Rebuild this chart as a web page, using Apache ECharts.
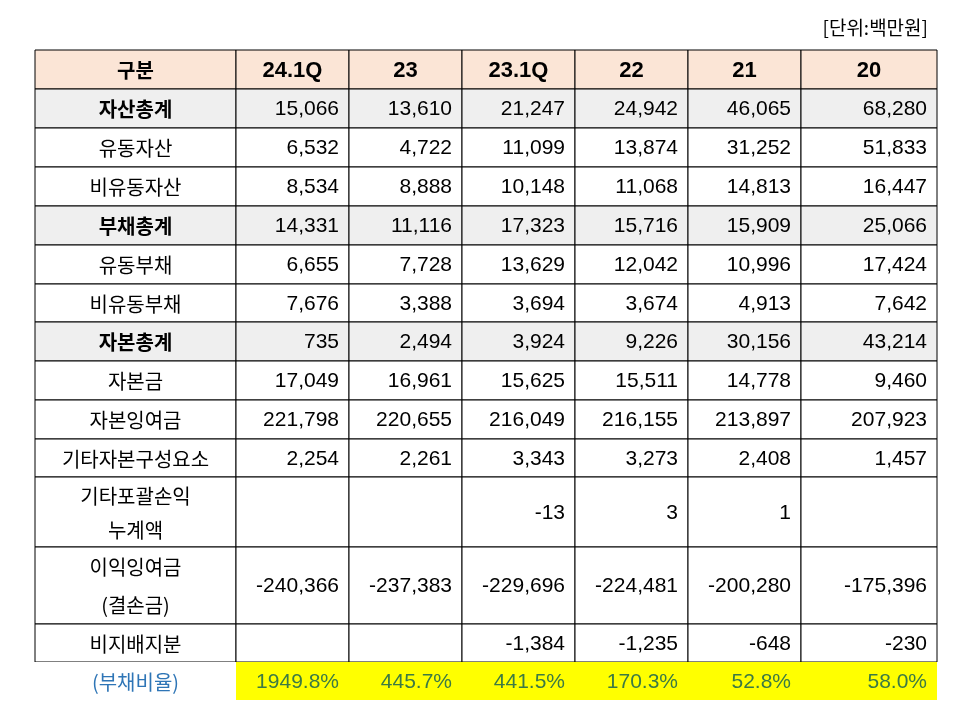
<!DOCTYPE html>
<html><head><meta charset="utf-8">
<script src="https://cdn.jsdelivr.net/npm/echarts@6/dist/echarts.min.js"></script>
<style>html,body{margin:0;padding:0;background:#fff}#c{width:960px;height:706px}</style>
</head><body><div id="c"></div>
<script>
const headers = ['구분','24.1Q','23','23.1Q','22','21','20'];
const rowLabels = ['자산총계','유동자산','비유동자산','부채총계','유동부채','비유동부채','자본총계','자본금','자본잉여금','기타자본구성요소','기타포괄손익\n누계액','이익잉여금\n(결손금)','비지배지분'];
const boldRows = ['자산총계','부채총계','자본총계'];
const values = [
 ['15,066','13,610','21,247','24,942','46,065','68,280'],
 ['6,532','4,722','11,099','13,874','31,252','51,833'],
 ['8,534','8,888','10,148','11,068','14,813','16,447'],
 ['14,331','11,116','17,323','15,716','15,909','25,066'],
 ['6,655','7,728','13,629','12,042','10,996','17,424'],
 ['7,676','3,388','3,694','3,674','4,913','7,642'],
 ['735','2,494','3,924','9,226','30,156','43,214'],
 ['17,049','16,961','15,625','15,511','14,778','9,460'],
 ['221,798','220,655','216,049','216,155','213,897','207,923'],
 ['2,254','2,261','3,343','3,273','2,408','1,457'],
 ['','','-13','3','1',''],
 ['-240,366','-237,383','-229,696','-224,481','-200,280','-175,396'],
 ['','','-1,384','-1,235','-648','-230']
];
const ratioLabel = '(부채비율)';
const ratios = ['1949.8%','445.7%','441.5%','170.3%','52.8%','58.0%'];
const unitText = '[단위:백만원]';

const colEdges = [35,236,349,462,575,688,801,937];
const rowEdges = [50,89,128,167,206,245,284,322,361,400,439,477,547,624,662,700];
const KR = '"Noto Sans CJK KR","Malgun Gothic",sans-serif';
const NUM = '"Liberation Sans",Arial,sans-serif';

const cells = [];
headers.forEach((h,c)=>cells.push([c,0,h,'head']));
rowLabels.forEach((l,r)=>{
  const bold = boldRows.includes(l);
  cells.push([0,r+1,l,bold?'labelB':'label']);
  values[r].forEach((v,c)=>cells.push([c+1,r+1,v,bold?'numB':'num']));
});
cells.push([0,rowLabels.length+1,ratioLabel,'ratioLabel']);
ratios.forEach((v,c)=>cells.push([c+1,rowLabels.length+1,v,'ratio']));

function renderItem(params, api){
  const c = api.value(0), r = api.value(1);
  const d = cells[params.dataIndex];
  const kind = d[3], text = d[2];
  const p0 = api.coord([colEdges[c], rowEdges[r]]);
  const p1 = api.coord([colEdges[c+1], rowEdges[r+1]]);
  const x=p0[0], y=p0[1], w=p1[0]-p0[0], h=p1[1]-p0[1];
  let fill='#ffffff', stroke='#000';
  if(kind==='head') fill='#fbe5d6';
  if(kind==='labelB'||kind==='numB') fill='#efefef';
  if(kind==='ratio'){fill='#ffff00'; stroke=null;}
  if(kind==='ratioLabel'){fill='#ffffff'; stroke=null;}
  const isNum = kind==='num'||kind==='numB'||kind==='ratio';
  const bold = kind==='head'||kind==='labelB';
  let color='#000';
  if(kind==='ratio') color='#3c7a44';
  if(kind==='ratioLabel') color='#2e75b6';
  const headNum = kind==='head' && c>0;
  const font = (headNum||isNum) ? NUM : KR;
  const size = headNum ? 22 : (isNum ? 21 : 20);
  const multi = text.includes('\n');
  return {type:'group',children:[
    {type:'rect',shape:{x,y,width:w,height:h},style:{fill,stroke:stroke||'none',lineWidth:1}},
    {type:'text',style:{text,x:isNum?x+w-10:x+w/2,y:y+h/2+1,align:isNum?'right':'center',verticalAlign:'middle',
      fontFamily:font,fontSize:size,fontWeight:bold?'bold':'normal',fill:color,
      lineHeight:multi?(h>72?38:34):24}}
  ]};
}

const chart = echarts.init(document.getElementById('c'));
chart.setOption({
  animation:false,
  grid:{left:0,right:0,top:0,bottom:0},
  xAxis:{type:'value',min:0,max:960,show:false},
  yAxis:{type:'value',min:0,max:706,inverse:true,show:false},
  graphic:[{type:'text',right:32,top:18,style:{text:unitText,fontFamily:KR,fontSize:19,fill:'#000'}}],
  series:[{type:'custom',renderItem,data:cells.map(d=>[d[0],d[1]]),clip:false}]
});
</script></body></html>
